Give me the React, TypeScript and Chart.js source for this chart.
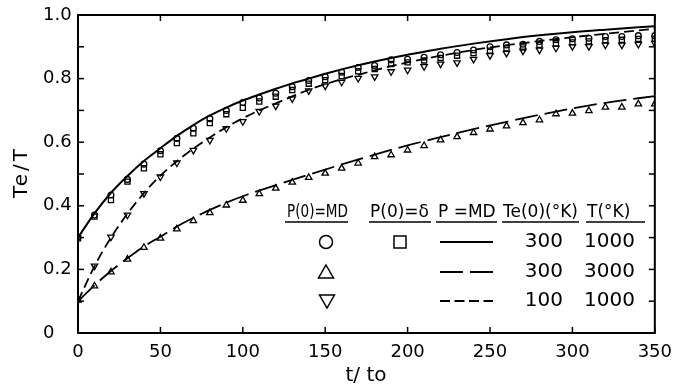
import React, { useEffect, useRef } from 'react';
import { Chart, registerables } from 'chart.js';

Chart.register(...registerables);

// ---- data ----
const tSamples = [0, 10, 20, 30, 40, 50, 60, 70, 80, 90, 100, 110, 120, 130, 140, 150, 160, 170, 180, 190, 200, 210, 220, 230, 240, 250, 260, 270, 280, 290, 300, 310, 320, 330, 340, 350];

// P(0)=MD, Te(0)=300, T=1000 (circles)
const circleMD = [0.302, 0.371, 0.434, 0.483, 0.531, 0.573, 0.612, 0.644, 0.674, 0.700, 0.725, 0.739, 0.754, 0.774, 0.794, 0.806, 0.820, 0.835, 0.841, 0.859, 0.861, 0.867, 0.875, 0.882, 0.890, 0.900, 0.906, 0.908, 0.917, 0.922, 0.925, 0.927, 0.932, 0.932, 0.935, 0.935];
// P(0)=δ, Te(0)=300, T=1000 (squares)
const squareDelta = [0.298, 0.366, 0.418, 0.476, 0.518, 0.562, 0.597, 0.628, 0.660, 0.688, 0.708, 0.728, 0.743, 0.764, 0.784, 0.795, 0.808, 0.823, 0.830, 0.846, 0.851, 0.857, 0.865, 0.872, 0.880, 0.888, 0.895, 0.898, 0.906, 0.911, 0.914, 0.917, 0.921, 0.922, 0.925, 0.925];
// P(0)=MD, Te(0)=300, T=3000 (triangles)
const triUp = [0.103, 0.148, 0.192, 0.232, 0.269, 0.298, 0.327, 0.353, 0.378, 0.402, 0.417, 0.438, 0.455, 0.474, 0.489, 0.502, 0.518, 0.534, 0.554, 0.560, 0.575, 0.589, 0.607, 0.617, 0.630, 0.641, 0.651, 0.661, 0.670, 0.689, 0.691, 0.699, 0.710, 0.710, 0.720, 0.720];
// P(0)=MD, Te(0)=100, T=1000 (inverted triangles)
const triDown = [0.103, 0.211, 0.302, 0.371, 0.439, 0.491, 0.535, 0.575, 0.606, 0.643, 0.665, 0.697, 0.714, 0.737, 0.762, 0.777, 0.789, 0.801, 0.806, 0.822, 0.827, 0.838, 0.846, 0.850, 0.861, 0.873, 0.880, 0.887, 0.890, 0.896, 0.901, 0.901, 0.906, 0.906, 0.908, 0.911];

// P=MD curves
const solidT = [0, 10, 20, 30, 40, 50, 60, 70, 80, 90, 100, 110, 120, 130, 140, 150, 160, 170, 180, 190, 200, 220, 240, 260, 280, 300, 320, 350];
const solidY = [0.30, 0.376, 0.441, 0.494, 0.541, 0.581, 0.620, 0.654, 0.684, 0.709, 0.731, 0.750, 0.768, 0.785, 0.800, 0.815, 0.829, 0.842, 0.854, 0.865, 0.875, 0.894, 0.910, 0.924, 0.936, 0.946, 0.954, 0.965];
const shortT = [0, 10, 20, 30, 40, 50, 60, 70, 80, 90, 100, 110, 120, 130, 140, 150, 160, 170, 180, 190, 200, 220, 240, 260, 280, 300, 320, 350];
const shortY = [0.10, 0.21, 0.30, 0.375, 0.44, 0.495, 0.54, 0.58, 0.615, 0.647, 0.675, 0.70, 0.722, 0.744, 0.765, 0.782, 0.798, 0.812, 0.826, 0.839, 0.851, 0.872, 0.89, 0.905, 0.918, 0.93, 0.941, 0.957];
const longT = [0, 10, 20, 30, 40, 50, 60, 70, 80, 90, 100, 120, 140, 160, 180, 200, 220, 240, 260, 280, 300, 320, 350];
const longY = [0.10, 0.15, 0.195, 0.235, 0.272, 0.303, 0.335, 0.362, 0.387, 0.41, 0.43, 0.465, 0.498, 0.53, 0.561, 0.59, 0.616, 0.641, 0.664, 0.686, 0.706, 0.724, 0.745];

const xTickLabels = ['0', '50', '100', '150', '200', '250', '300', '350'];
const yTickLabels = ['0', '0.2', '0.4', '0.6', '0.8', '1.0'];
const xTitle = 't/ to';
const yTitle = 'Te/T';

const legendHeaders = ['P(0)=MD', 'P(0)=δ', 'P =MD', 'Te(0)(°K)', 'T(°K)'];
const legendTe0 = ['300', '300', '100'];
const legendT = ['1000', '3000', '1000'];

const FONT = '"DejaVu Sans", sans-serif';

const pts = (xs: number[], ys: number[]) => xs.map((x, i) => ({ x, y: ys[i] }));

function line(ctx: CanvasRenderingContext2D, x1: number, y1: number, x2: number, y2: number) {
  ctx.beginPath();
  ctx.moveTo(x1, y1);
  ctx.lineTo(x2, y2);
  ctx.stroke();
}

const framePlugin = {
  id: 'frameAndTable',
  afterDatasetsDraw(chart: any) {
    const { ctx, chartArea: a, scales } = chart;
    ctx.save();
    ctx.strokeStyle = '#000';
    ctx.fillStyle = '#000';
    ctx.lineWidth = 2;
    ctx.strokeRect(a.left, a.top, a.right - a.left, a.bottom - a.top);
    ctx.lineWidth = 1.5;
    const tl = 6;
    scales.y.ticks.forEach((t: any) => {
      const y = scales.y.getPixelForValue(t.value);
      line(ctx, a.left, y, a.left + tl, y);
      line(ctx, a.right, y, a.right - tl, y);
    });
    scales.x.ticks.forEach((t: any) => {
      const x = scales.x.getPixelForValue(t.value);
      line(ctx, x, a.top, x, a.top + tl);
      line(ctx, x, a.bottom, x, a.bottom - tl);
    });

    // axis titles
    ctx.textBaseline = 'middle';
    ctx.textAlign = 'center';
    ctx.font = `20px ${FONT}`;
    ctx.fillText(xTitle, 366, 376);
    ctx.save();
    ctx.translate(22, 172);
    ctx.rotate(-Math.PI / 2);
    (ctx as any).letterSpacing = '3px';
    ctx.fillText(yTitle, 0, 0);
    ctx.restore();

    // legend table
    const hx = [287, 370, 438, 503, 587];
    const hw = [61, 60, 58, 75, 48];
    const ux = [[285, 348], [369, 431], [436, 497], [502, 579], [586, 645]];
    ctx.textAlign = 'left';
    ctx.font = `17px ${FONT}`;
    legendHeaders.forEach((h, i) => ctx.fillText(h, hx[i], 213, hw[i]));
    ctx.lineWidth = 1.6;
    ux.forEach(([x1, x2]) => line(ctx, x1, 222, x2, 222));

    const rows = [242, 272, 301];
    ctx.lineWidth = 1.5;
    // circle & square
    ctx.beginPath();
    ctx.arc(326, rows[0], 6.5, 0, Math.PI * 2);
    ctx.stroke();
    ctx.strokeRect(394, rows[0] - 6, 12, 12);
    // triangle
    ctx.beginPath();
    ctx.moveTo(326, rows[1] - 7);
    ctx.lineTo(333.5, rows[1] + 6);
    ctx.lineTo(318.5, rows[1] + 6);
    ctx.closePath();
    ctx.stroke();
    // inverted triangle
    ctx.beginPath();
    ctx.moveTo(327, rows[2] + 7);
    ctx.lineTo(334.5, rows[2] - 6);
    ctx.lineTo(319.5, rows[2] - 6);
    ctx.closePath();
    ctx.stroke();
    // line samples
    ctx.lineWidth = 2;
    line(ctx, 440, rows[0], 493, rows[0]);
    ctx.setLineDash([23, 7]);
    line(ctx, 440, rows[1], 493, rows[1]);
    ctx.setLineDash([10, 4.5]);
    line(ctx, 440, rows[2], 493, rows[2]);
    ctx.setLineDash([]);
    // numbers
    ctx.font = `20px ${FONT}`;
    ctx.textAlign = 'right';
    rows.forEach((y, i) => {
      ctx.fillText(legendTe0[i], 563, y);
      ctx.fillText(legendT[i], 635, y);
    });
    ctx.restore();
  },
};

export default function App() {
  const ref = useRef<HTMLCanvasElement | null>(null);
  useEffect(() => {
    if (!ref.current) return;
    const markerBase = {
      showLine: false,
      borderColor: '#000',
      backgroundColor: 'rgba(0,0,0,0)',
      pointBorderWidth: 1.3,
      order: 0,
    };
    const lineBase = {
      showLine: true,
      borderColor: '#000',
      pointRadius: 0,
      pointHoverRadius: 0,
      tension: 0.4,
      cubicInterpolationMode: 'monotone' as const,
      fill: false,
      order: 1,
    };
    const chart = new Chart(ref.current, {
      type: 'scatter',
      data: {
        datasets: [
          { ...lineBase, label: 'solid', data: pts(solidT, solidY), borderWidth: 2 },
          { ...lineBase, label: 'long', data: pts(longT, longY), borderWidth: 1.8, borderDash: [23, 7] },
          { ...lineBase, label: 'short', data: pts(shortT, shortY), borderWidth: 1.8, borderDash: [10, 5] },
          { ...markerBase, label: 'circle', data: pts(tSamples, circleMD), pointStyle: 'circle', pointRadius: 2.9 },
          { ...markerBase, label: 'square', data: pts(tSamples, squareDelta), pointStyle: 'rect', pointRadius: 3.6 },
          { ...markerBase, label: 'tri', data: pts(tSamples, triUp), pointStyle: 'triangle', pointRadius: 3.7 },
          { ...markerBase, label: 'tridown', data: pts(tSamples, triDown), pointStyle: 'triangle', pointRadius: 3.7, pointRotation: 180 },
        ] as any,
      },
      options: {
        animation: false,
        responsive: false,
        devicePixelRatio: 1,
        events: [],
        layout: { padding: { left: 43, right: 17, top: 15, bottom: 0 } },
        plugins: { legend: { display: false }, tooltip: { enabled: false } },
        scales: {
          x: {
            type: 'linear',
            min: 0,
            max: 350,
            grid: { display: false },
            border: { display: false },
            ticks: {
              stepSize: 50,
              autoSkip: false,
              maxRotation: 0,
              padding: 1,
              color: '#000',
              font: { family: FONT, size: 18 },
              callback: (_v: any, i: number) => xTickLabels[i] ?? '',
            },
            afterFit: (s: any) => { s.height = 54; },
          },
          y: {
            type: 'linear',
            min: 0,
            max: 1,
            grid: { display: false },
            border: { display: false },
            ticks: {
              stepSize: 0.1,
              autoSkip: false,
              padding: 0,
              crossAlign: 'far',
              color: '#000',
              font: { family: FONT, size: 18 },
              callback: (_v: any, i: number) => (i % 2 === 0 ? yTickLabels[i / 2] ?? '' : ''),
            },
            afterFit: (s: any) => { s.width = 35; },
          },
        },
      } as any,
      plugins: [framePlugin],
    });
    return () => chart.destroy();
  }, []);
  return (
    <div style={{ position: 'fixed', left: 0, top: 0, width: 673, height: 387, background: '#fff' }}>
      <canvas ref={ref} width={673} height={387} />
    </div>
  );
}
